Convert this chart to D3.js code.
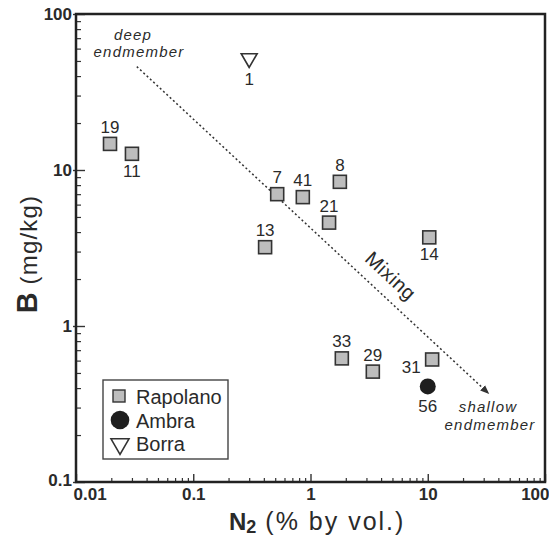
<!DOCTYPE html>
<html>
<head>
<meta charset="utf-8">
<script src="https://cdn.jsdelivr.net/npm/d3@7"></script>
<style>
  body { margin: 0; background: #fff; }
  svg text { font-family: "Liberation Sans", Arial, sans-serif; fill: #2a2a2a; }
</style>
</head>
<body>
<div id="chart"></div>
<script>
// sample data
var rapolanoIds = [19, 11, 7, 41, 8, 21, 13, 14, 33, 29, 31];
var rapolanoN2 = [0.0195, 0.030, 0.52, 0.86, 1.78, 1.44, 0.41, 10.3, 1.85, 3.4, 10.9];
var rapolanoB = [14.7, 12.7, 7.0, 6.7, 8.4, 4.6, 3.2, 3.7, 0.62, 0.51, 0.61];
var rapolanoSide = ['t', 'b', 't', 't', 't', 't', 't', 'b', 't', 't', 'l'];

var ambraIds = [56];
var ambraN2 = [10.0];
var ambraB = [0.41];

var borraIds = [1];
var borraN2 = [0.30];
var borraB = [52];

// mixing line, deep -> shallow endmember
var mixN2 = [0.033, 33];
var mixB = [46, 0.37];

var xTicks = [0.01, 0.1, 1, 10, 100];
var xTickLabels = ['0.01', '0.1', '1', '10', '100'];
var yTicks = [0.1, 1, 10, 100];
var yTickLabels = ['0.1', '1', '10', '100'];

var W = 549, H = 536;
var m = {left: 76, top: 14, right: 4, bottom: 54};

var svg = d3.select('#chart').append('svg')
  .attr('width', W).attr('height', H);

var x = d3.scaleLog().domain([0.01, 100]).range([m.left, W - m.right]);
var y = d3.scaleLog().domain([0.1, 100]).range([H - m.bottom, m.top]);

function minorTicks(lo, hi) {
  var out = [];
  for (var p = Math.log10(lo); p < Math.log10(hi); p++) {
    for (var k = 2; k <= 9; k++) out.push(k * Math.pow(10, p));
  }
  return out;
}

// minor ticks (inside)
svg.append('g')
  .attr('transform', 'translate(0,' + y.range()[0] + ')')
  .call(d3.axisBottom(x).tickValues(minorTicks(0.01, 100)).tickSize(-4).tickFormat(''))
  .call(function(g){ g.select('.domain').remove(); g.selectAll('line').attr('stroke', '#333').attr('stroke-width', 1.2); });
svg.append('g')
  .attr('transform', 'translate(' + x.range()[0] + ',0)')
  .call(d3.axisLeft(y).tickValues(minorTicks(0.1, 100)).tickSize(-5).tickFormat(''))
  .call(function(g){ g.select('.domain').remove(); g.selectAll('line').attr('stroke', '#333').attr('stroke-width', 1.2); });

// major ticks + labels
var xAxis = svg.append('g')
  .attr('transform', 'translate(0,' + y.range()[0] + ')')
  .call(d3.axisBottom(x).tickValues(xTicks).tickSize(-8)
    .tickFormat(function(d, i){ return xTickLabels[i]; }));
xAxis.select('.domain').remove();
xAxis.selectAll('line').attr('stroke', '#333').attr('stroke-width', 1.4);
xAxis.selectAll('text')
  .attr('y', 6).attr('dy', '0.71em')
  .style('font-size', '17px').style('font-weight', 'bold').attr('fill', '#2a2a2a');
xAxis.selectAll('.tick').filter(function(d){ return d === 100; }).select('text')
  .attr('text-anchor', 'end').attr('x', 4);
xAxis.selectAll('.tick').filter(function(d){ return d === 0.01; }).select('text')
  .attr('text-anchor', 'start').attr('x', -3);

var yAxis = svg.append('g')
  .attr('transform', 'translate(' + x.range()[0] + ',0)')
  .call(d3.axisLeft(y).tickValues(yTicks).tickSize(-9)
    .tickFormat(function(d, i){ return yTickLabels[i]; }));
yAxis.select('.domain').remove();
yAxis.selectAll('line').attr('stroke', '#333').attr('stroke-width', 1.4).attr('x1', -3);
yAxis.selectAll('text')
  .attr('x', -4)
  .style('font-size', '17px').style('font-weight', 'bold').attr('fill', '#2a2a2a');
yAxis.selectAll('.tick').filter(function(d){ return d === 0.1; }).select('text')
  .attr('dy', '0.2em');

// frame
svg.append('rect')
  .attr('x', x.range()[0]).attr('y', y.range()[1])
  .attr('width', x.range()[1] - x.range()[0])
  .attr('height', y.range()[0] - y.range()[1])
  .attr('fill', 'none').attr('stroke', '#222').attr('stroke-width', 2.5);

// mixing arrow
svg.append('defs').append('marker')
  .attr('id', 'arrow').attr('viewBox', '0 0 10 10')
  .attr('refX', 9).attr('refY', 5)
  .attr('markerWidth', 9).attr('markerHeight', 9)
  .attr('markerUnits', 'userSpaceOnUse')
  .attr('orient', 'auto')
  .append('path').attr('d', 'M0,1 L10,5 L0,9 Z').attr('fill', '#333');

svg.append('line')
  .attr('x1', x(mixN2[0])).attr('y1', y(mixB[0]))
  .attr('x2', x(mixN2[1])).attr('y2', y(mixB[1]))
  .attr('stroke', '#333').attr('stroke-width', 1.5)
  .attr('stroke-dasharray', '2,2.5')
  .attr('marker-end', 'url(#arrow)');

var ang = Math.atan2(y(mixB[1]) - y(mixB[0]), x(mixN2[1]) - x(mixN2[0])) * 180 / Math.PI;
svg.append('text')
  .attr('transform', 'translate(' + 386 + ',' + 281 + ') rotate(' + ang + ')')
  .attr('text-anchor', 'middle')
  .style('font-size', '20px').style('letter-spacing', '0.5px')
  .text('Mixing');

var ann = svg.append('g').style('font-style', 'italic').style('font-size', '15px')
  .style('letter-spacing', '1.2px').attr('text-anchor', 'middle');
ann.append('text').attr('x', 133).attr('y', 40).text('deep');
ann.append('text').attr('x', 139).attr('y', 57).text('endmember');
ann.append('text').attr('x', 488).attr('y', 412).text('shallow');
ann.append('text').attr('x', 490).attr('y', 430).text('endmember');

// markers
var sq = 13;
var rap = rapolanoIds.map(function(id, i){
  return {id: id, n2: rapolanoN2[i], b: rapolanoB[i], side: rapolanoSide[i]};
});
svg.append('g').selectAll('rect')
  .data(rap).enter().append('rect')
  .attr('x', function(d){ return x(d.n2) - sq / 2; })
  .attr('y', function(d){ return y(d.b) - sq / 2; })
  .attr('width', sq).attr('height', sq)
  .attr('fill', '#bdbdbd').attr('stroke', '#333').attr('stroke-width', 1.6);

svg.append('g').selectAll('circle')
  .data(ambraIds.map(function(id, i){ return {id: id, n2: ambraN2[i], b: ambraB[i]}; }))
  .enter().append('circle')
  .attr('cx', function(d){ return x(d.n2); })
  .attr('cy', function(d){ return y(d.b); })
  .attr('r', 8).attr('fill', '#1e1e1e');

var tri = d3.symbol().type(d3.symbolTriangle).size(110);
svg.append('g').selectAll('path')
  .data(borraIds.map(function(id, i){ return {id: id, n2: borraN2[i], b: borraB[i]}; }))
  .enter().append('path')
  .attr('d', tri)
  .attr('transform', function(d){ return 'translate(' + x(d.n2) + ',' + y(d.b) + ') rotate(180)'; })
  .attr('fill', '#fff').attr('stroke', '#333').attr('stroke-width', 1.6);

// point labels
var labels = svg.append('g').style('font-size', '17px').attr('text-anchor', 'middle');
function offset(side) {
  if (side === 't') return [0, -11];
  if (side === 'b') return [0, 23];
  return [-21, 14];
}
labels.selectAll('text.r').data(rap).enter().append('text')
  .attr('x', function(d){ return x(d.n2) + offset(d.side)[0]; })
  .attr('y', function(d){ return y(d.b) + offset(d.side)[1]; })
  .text(function(d){ return d.id; });
ambraIds.forEach(function(id, i){
  labels.append('text').attr('x', x(ambraN2[i])).attr('y', y(ambraB[i]) + 26).text(id);
});
borraIds.forEach(function(id, i){
  labels.append('text').attr('x', x(borraN2[i])).attr('y', y(borraB[i]) + 27).text(id);
});

// legend
var lg = svg.append('g');
lg.append('rect').attr('x', 103).attr('y', 380).attr('width', 125).attr('height', 79)
  .attr('fill', '#fff').attr('stroke', '#444').attr('stroke-width', 1.4);
lg.append('rect').attr('x', 113).attr('y', 390).attr('width', 12).attr('height', 12)
  .attr('fill', '#bdbdbd').attr('stroke', '#333').attr('stroke-width', 1.4);
lg.append('circle').attr('cx', 120).attr('cy', 420).attr('r', 9.3).attr('fill', '#1e1e1e');
lg.append('path').attr('d', d3.symbol().type(d3.symbolTriangle).size(140))
  .attr('transform', 'translate(120,444) rotate(180)')
  .attr('fill', '#fff').attr('stroke', '#333').attr('stroke-width', 1.6);
var legNames = ['Rapolano', 'Ambra', 'Borra'];
lg.selectAll('text').data(legNames).enter().append('text')
  .attr('x', 136).attr('y', function(d, i){ return 404 + i * 23.5; })
  .style('font-size', '20px').text(function(d){ return d; });

// axis titles
var yt = svg.append('text')
  .attr('transform', 'translate(37,' + 254 + ') rotate(-90)')
  .attr('text-anchor', 'middle');
yt.append('tspan').style('font-weight', 'bold').style('font-size', '29px').text('B');
yt.append('tspan').style('font-size', '24px').style('letter-spacing', '1.2px').text(' (mg/kg)');

var xt = svg.append('text')
  .attr('x', 229).attr('y', 530);
xt.append('tspan').style('font-weight', 'bold').style('font-size', '24px').text('N');
xt.append('tspan').style('font-weight', 'bold').style('font-size', '18px').attr('dy', 3).text('2');
xt.append('tspan').style('font-size', '25px').style('letter-spacing', '2px').attr('dy', -3).text(' (% by vol.)');
</script>
</body>
</html>
